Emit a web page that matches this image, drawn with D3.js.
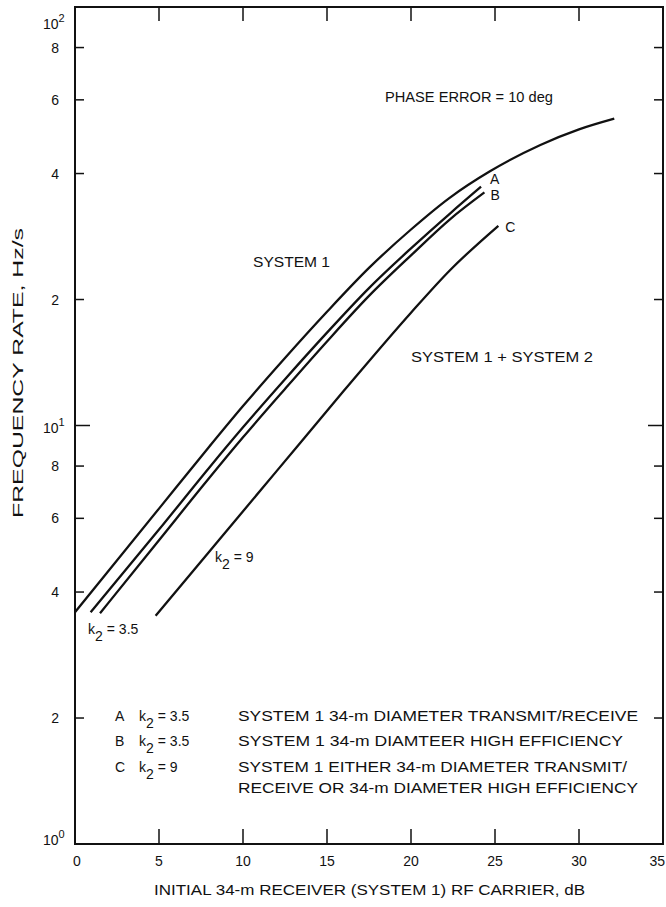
<!DOCTYPE html>
<html><head><meta charset="utf-8">
<script src="https://cdn.jsdelivr.net/npm/d3@7"></script>
<style>
body{margin:0;background:#fff;}
text{font-family:"Liberation Sans",Arial,sans-serif;fill:#111;}
</style></head>
<body><svg id="c" width="666" height="907"></svg>
<script>
// ---- data ----
const xTicks = [0,5,10,15,20,25,30,35];
const yDecades = [1,10,100];
const yMinor = [2,4,6,8];
const sys1X = [0,5,8,10,12.5,15,17.5,20,22.3,24.7,27.7,30,32.1];
const sys1Y = [3.58,6.33,8.91,11.13,14.5,18.7,23.8,29.4,35.0,40.5,46.8,51.0,54.1];
const aX = [0.93,5,8,10,12.5,15,17.5,20,22.32,24.17];
const aY = [3.58,5.64,7.94,9.90,12.9,16.67,21.3,26.5,32.1,37.2];
const bX = [1.49,5,8,10,12.5,15,17.5,20,22.32,24.37];
const bY = [3.56,5.32,7.50,9.37,12.23,15.88,20.4,25.5,31.1,36.05];
const cX = [4.8,8,12,16,20,22.32,25.2];
const cY = [3.51,5.0,7.78,12.1,18.6,23.5,30.0];
const legendKeys = ["A","B","C"];
const legendK2 = ["3.5","3.5","9"];
const legendText = [
  ["SYSTEM 1 34-m DIAMETER TRANSMIT/RECEIVE"],
  ["SYSTEM 1 34-m DIAMTEER HIGH EFFICIENCY"],
  ["SYSTEM 1 EITHER 34-m DIAMETER TRANSMIT/","RECEIVE OR 34-m DIAMETER HIGH EFFICIENCY"]
];
const legendLen = [[400],[385],[389,400]];

// ---- layout ----
const L=75,R=663,T=7,B=844;
const svg=d3.select("#c");
const x=d3.scaleLinear().domain([0,35]).range([L,R]);
const y=d3.scaleLog().domain([1,100]).range([B,T]);

// frame
svg.append("rect").attr("x",L).attr("y",T).attr("width",R-L).attr("height",B-T)
  .attr("fill","none").attr("stroke","#111").attr("stroke-width",2);

// x ticks (bottom and top, inward)
const xin = xTicks.filter(d=>d>0&&d<35);
svg.selectAll(".xb").data(xin).enter().append("line")
  .attr("x1",d=>x(d)).attr("x2",d=>x(d)).attr("y1",B).attr("y2",B-15)
  .attr("stroke","#111").attr("stroke-width",1.5);
svg.selectAll(".xt").data(xin).enter().append("line")
  .attr("x1",d=>x(d)).attr("x2",d=>x(d)).attr("y1",T).attr("y2",T+14)
  .attr("stroke","#111").attr("stroke-width",1.5);
svg.selectAll(".xl").data(xTicks).enter().append("text")
  .attr("x",d=>d===35?x(d)+2:x(d)+(d===0?2:0)).attr("y",866)
  .attr("text-anchor",d=>d===35?"end":"middle")
  .attr("font-size",14).text(d=>d);

// y ticks
const minorVals=[];
[1,10].forEach(dec=>yMinor.forEach(m=>minorVals.push(dec*m)));
svg.selectAll(".yl").data(minorVals).enter().append("line")
  .attr("x1",L).attr("x2",L+9).attr("y1",d=>y(d)).attr("y2",d=>y(d))
  .attr("stroke","#111").attr("stroke-width",1.5);
svg.selectAll(".yr").data(minorVals).enter().append("line")
  .attr("x1",R).attr("x2",R-9).attr("y1",d=>y(d)).attr("y2",d=>y(d))
  .attr("stroke","#111").attr("stroke-width",1.5);
svg.selectAll(".yd").data([10]).enter().append("line")
  .attr("x1",L).attr("x2",L+15).attr("y1",d=>y(d)).attr("y2",d=>y(d))
  .attr("stroke","#111").attr("stroke-width",1.5);
svg.selectAll(".ydr").data([10]).enter().append("line")
  .attr("x1",R).attr("x2",R-15).attr("y1",d=>y(d)).attr("y2",d=>y(d))
  .attr("stroke","#111").attr("stroke-width",1.5);
svg.selectAll(".ylab").data(minorVals).enter().append("text")
  .attr("x",59).attr("y",d=>y(d)+5).attr("text-anchor","end")
  .attr("font-size",14).text(d=>d<10?d:d/10);
// decade labels
const decOff={1:1,10:7,100:22};
yDecades.forEach((d,i)=>{
  const t=svg.append("text").attr("x",43).attr("y",y(d)+decOff[d]).attr("font-size",14);
  t.append("tspan").text("10");
  t.append("tspan").attr("dy",-7).attr("font-size",11).text(String(i));
});

// axis titles
svg.append("text").attr("x",154).attr("y",895).attr("font-size",14)
  .attr("textLength",431).attr("lengthAdjust","spacingAndGlyphs")
  .text("INITIAL 34-m RECEIVER (SYSTEM 1) RF CARRIER, dB");
svg.append("text").attr("transform","translate(23,518) rotate(-90)")
  .attr("font-size",14).attr("textLength",290).attr("lengthAdjust","spacingAndGlyphs")
  .text("FREQUENCY RATE, Hz/s");

// curves
const line=d3.line().x(d=>x(d[0])).y(d=>y(d[1])).curve(d3.curveMonotoneX);
[[sys1X,sys1Y],[aX,aY],[bX,bY],[cX,cY]].forEach(([xs,ys])=>{
  svg.append("path").datum(xs.map((v,i)=>[v,ys[i]])).attr("d",line)
    .attr("fill","none").attr("stroke","#111").attr("stroke-width",2.3);
});

// curve end labels
const ends=[[aX,aY],[bX,bY],[cX,cY]];
const lblOff=[[9,-3],[6,8],[7,6]];
ends.forEach(([xs,ys],i)=>{
  const n=xs.length-1;
  svg.append("text").attr("x",x(xs[n])+lblOff[i][0]).attr("y",y(ys[n])+lblOff[i][1])
    .attr("font-size",14).text(legendKeys[i]);
});

// annotations
svg.append("text").attr("x",385).attr("y",102).attr("font-size",14)
  .attr("textLength",168).attr("lengthAdjust","spacingAndGlyphs").text("PHASE ERROR = 10 deg");
svg.append("text").attr("x",253).attr("y",267).attr("font-size",14)
  .attr("textLength",77).attr("lengthAdjust","spacingAndGlyphs").text("SYSTEM 1");
svg.append("text").attr("x",411).attr("y",362).attr("font-size",14)
  .attr("textLength",182).attr("lengthAdjust","spacingAndGlyphs").text("SYSTEM 1 + SYSTEM 2");

function k2(sel,xp,yp,val){
  const t=sel.append("text").attr("x",xp).attr("y",yp).attr("font-size",14);
  t.append("tspan").text("k");
  t.append("tspan").attr("dy",7).attr("font-size",14).text("2");
  t.append("tspan").attr("dy",-7).attr("dx",4).text("= "+val);
}
k2(svg,88,634,legendK2[0]);
k2(svg,215,562,legendK2[2]);

// legend
const rowY=[721,746,772];
legendKeys.forEach((k,i)=>{
  svg.append("text").attr("x",115).attr("y",rowY[i]).attr("font-size",14).text(k);
  k2(svg,139,rowY[i],legendK2[i]);
  legendText[i].forEach((s,j)=>{
    svg.append("text").attr("x",238).attr("y",rowY[i]+j*21).attr("font-size",14)
      .attr("textLength",legendLen[i][j]).attr("lengthAdjust","spacingAndGlyphs").text(s);
  });
});
</script></body></html>
